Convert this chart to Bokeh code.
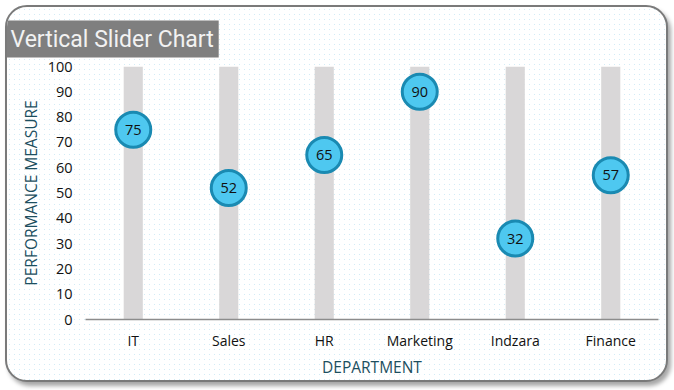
from bokeh.plotting import figure
from bokeh.models import ColumnDataSource, Range1d
from bokeh.core.properties import value
from bokeh.embed import file_html
from bokeh.resources import INLINE

departments = ["IT", "Sales", "HR", "Marketing", "Indzara", "Finance"]
performance = [75, 52, 65, 90, 32, 57]
max_values = [100, 100, 100, 100, 100, 100]
y_ticks = [0, 10, 20, 30, 40, 50, 60, 70, 80, 90, 100]

src = ColumnDataSource(dict(
    dept=departments,
    perf=performance,
    top=max_values,
    lbl=[str(v) for v in performance],
))

p = figure(frame_width=573, frame_height=253, x_range=departments, y_range=Range1d(0, 100),
           output_backend="svg", toolbar_location=None,
           min_border_left=78, min_border_right=8, min_border_top=59, min_border_bottom=61)
p.styles = {"border": "2px solid #7a7a7a", "border-radius": "22px",
            "box-shadow": "3px 4px 4px rgba(0,0,0,0.35)", "overflow": "hidden",
            "margin-left": "5px", "margin-top": "5px",
            "background-color": "white",
            "background-image": "radial-gradient(#d2ecf6 0.7px, transparent 1px)",
            "background-size": "5px 5px"}
p.outline_line_color = None
p.background_fill_color = None
p.border_fill_color = None
p.grid.grid_line_color = None

p.title.text = "Vertical Slider Chart"
p.title.align = "left"
p.title.offset = -80
p.title.standoff = 18
p.title.text_font = "Roboto"
p.title.text_font_style = "normal"
p.title.text_font_size = "23px"
p.title.text_color = "#f2f2f2"
p.title.background_fill_color = "#7f7f7f"
p.title.padding = 5

p.vbar(x="dept", top="top", bottom=0, width=0.2, source=src,
       fill_color="#d9d7d8", line_color=None)
p.scatter(x="dept", y="perf", size=35, source=src, fill_color="#4ec8f0",
          line_color="#1a8ab2", line_width=3)
p.text(x="dept", y="perf", text="lbl", source=src, text_align="center",
       text_baseline="middle", text_font_size="14.5px", text_color="#111111",
       text_font=value("Open Sans"))

p.yaxis.ticker = y_ticks
p.yaxis.axis_line_color = None
p.yaxis.major_tick_line_color = None
p.yaxis.minor_tick_line_color = None
p.yaxis.major_label_standoff = 7
p.yaxis.major_label_text_font_size = "14.5px"
p.yaxis.major_label_text_color = "#111111"
p.yaxis.axis_label = "PERFORMANCE MEASURE"
p.yaxis.axis_label_text_font_style = "normal"
p.yaxis.axis_label_text_font_size = "15.5px"
p.yaxis.axis_label_text_color = "#1d4f5f"
p.yaxis.axis_label_standoff = 3

p.xaxis.axis_line_color = "#8c8c8c"
p.xaxis.axis_line_width = 1.5
p.xaxis.major_tick_line_color = None
p.xaxis.minor_tick_line_color = None
p.xaxis.major_label_standoff = 5
p.xaxis.major_label_text_font_size = "14px"
p.xaxis.major_label_text_color = "#111111"
p.xaxis.axis_label = "DEPARTMENT"
p.xaxis.axis_label_text_font_style = "normal"
p.xaxis.axis_label_text_font_size = "15.5px"
p.xaxis.axis_label_text_color = "#1d4f5f"
p.xaxis.axis_label_standoff = 3

for ax in (p.xaxis[0], p.yaxis[0]):
    ax.major_label_text_font = "Open Sans"
    ax.axis_label_text_font = "Open Sans"

open("out.html", "w").write(file_html(p, INLINE))
